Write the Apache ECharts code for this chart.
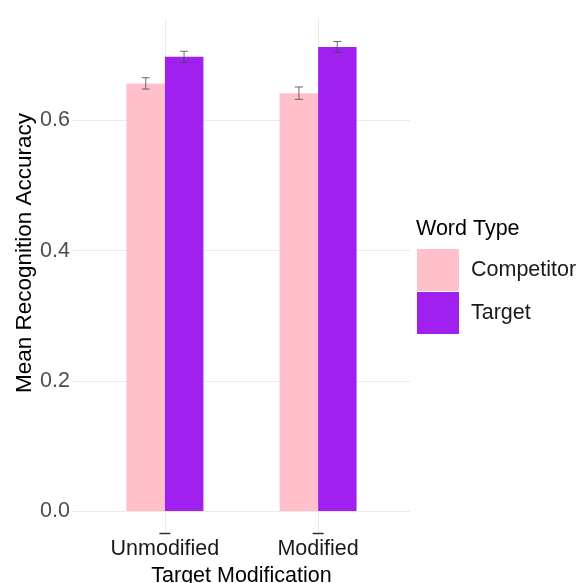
<!DOCTYPE html>
<html>
<head>
<meta charset="utf-8">
<script src="https://cdn.jsdelivr.net/npm/echarts@6/dist/echarts.min.js"></script>
<style>
  html, body { margin: 0; padding: 0; background: #ffffff; }
  #chart { width: 581px; height: 583px; }
</style>
</head>
<body>
<div id="chart"></div>
<script>
// Mean recognition accuracy by target modification and word type
const categories = ['Unmodified', 'Modified'];
const wordTypes = ['Competitor', 'Target'];
const competitorMean = [0.657, 0.642];
const targetMean = [0.698, 0.713];
const competitorSE = [0.0087, 0.0095];
const targetSE = [0.0084, 0.0084];
const yTicks = [0, 0.2, 0.4, 0.6];
const xTicks = [1, 2];

const FONT = '"Liberation Sans", Arial, sans-serif';
const PINK = '#FFC0CB';
const PURPLE = '#A020F0';
const GRID = '#EBEBEB';

// y range with a 5% expansion around [0, highest error-bar top]
const yTop = Math.max(
  ...competitorMean.map((m, i) => m + competitorSE[i]),
  ...targetMean.map((m, i) => m + targetSE[i])
);
const yMin = -0.05 * yTop;
const yMax = yTop * 1.05;

// dodge: each bar covers a quarter of a category unit
const dodge = 0.125;

const errRows = [];
competitorMean.forEach((m, i) => errRows.push([i + 1, m, competitorSE[i], -dodge]));
targetMean.forEach((m, i) => errRows.push([i + 1, m, targetSE[i], dodge]));

const chart = echarts.init(document.getElementById('chart'), null, { renderer: 'canvas' });

chart.setOption({
  backgroundColor: '#ffffff',
  animation: false,
  textStyle: { fontFamily: FONT },
  grid: { left: 73, right: 171, top: 18, bottom: 48.5, containLabel: false, outerBoundsMode: 'none' },
  title: {
    text: 'Word Type',
    left: 416,
    top: 218,
    padding: 0,
    textStyle: { fontFamily: FONT, fontSize: 21.5, fontWeight: 'normal', color: '#000' }
  },
  legend: {
    data: wordTypes,
    orient: 'vertical',
    left: 417,
    top: 249,
    padding: 0,
    itemWidth: 42,
    itemHeight: 42,
    itemGap: 1,
    icon: 'rect',
    textStyle: { fontFamily: FONT, fontSize: 21.5, color: '#1a1a1a', padding: [0, 0, 0, 7] }
  },
  xAxis: {
    type: 'value',
    min: 0.4,
    max: 2.6,
    name: 'Target Modification',
    nameLocation: 'middle',
    nameGap: 25,
    nameTextStyle: { fontFamily: FONT, fontSize: 21.5, color: '#000' },
    axisLine: { show: false },
    axisTick: { show: false, customValues: xTicks },
    axisLabel: {
      customValues: xTicks,
      margin: 4,
      fontFamily: FONT,
      fontSize: 21.5,
      color: '#1a1a1a',
      formatter: v => categories[Math.round(v) - 1] || ''
    },
    splitLine: { show: true, lineStyle: { color: GRID, width: 1 } }
  },
  yAxis: {
    type: 'value',
    min: yMin,
    max: yMax,
    axisLine: { show: false },
    axisTick: { show: false, customValues: yTicks },
    axisLabel: {
      customValues: yTicks,
      margin: 3,
      fontFamily: FONT,
      fontSize: 21.5,
      color: '#4D4D4D',
      formatter: v => v.toFixed(1)
    },
    splitLine: { show: true, lineStyle: { color: GRID, width: 1 } }
  },
  graphic: [{
    type: 'text',
    x: 25,
    y: 253,
    rotation: Math.PI / 2,
    style: {
      text: 'Mean Recognition Accuracy',
      fontFamily: FONT,
      fontSize: 22.5,
      fill: '#000',
      align: 'center',
      verticalAlign: 'middle'
    }
  }],
  series: [
    {
      name: 'Competitor',
      type: 'bar',
      data: competitorMean.map((v, i) => [i + 1, v]),
      barWidth: 38.5,
      barGap: '0%',
      itemStyle: { color: PINK }
    },
    {
      name: 'Target',
      type: 'bar',
      data: targetMean.map((v, i) => [i + 1, v]),
      barWidth: 38.5,
      barGap: '0%',
      itemStyle: { color: PURPLE }
    },
    {
      // standard-error whiskers
      type: 'custom',
      z: 5,
      silent: true,
      data: errRows,
      renderItem: (params, api) => {
        const x = api.value(0) + api.value(3);
        const m = api.value(1);
        const e = api.value(2);
        const hi = api.coord([x, m + e]);
        const lo = api.coord([x, m - e]);
        const cap = 4;
        const style = { stroke: 'rgba(70,70,70,0.8)', lineWidth: 1 };
        return {
          type: 'group',
          children: [
            { type: 'line', shape: { x1: hi[0], y1: hi[1], x2: lo[0], y2: lo[1] }, style },
            { type: 'line', shape: { x1: hi[0] - cap, y1: hi[1], x2: hi[0] + cap, y2: hi[1] }, style },
            { type: 'line', shape: { x1: lo[0] - cap, y1: lo[1], x2: lo[0] + cap, y2: lo[1] }, style }
          ]
        };
      }
    },
    {
      // short marks at the foot of each category line
      type: 'custom',
      z: 5,
      silent: true,
      data: xTicks.map(v => [v]),
      renderItem: (params, api) => {
        const p = api.coord([api.value(0), yMin]);
        return {
          type: 'line',
          shape: { x1: p[0] - 5.5, y1: p[1] - 1, x2: p[0] + 5.5, y2: p[1] - 1 },
          style: { stroke: '#333', lineWidth: 1.5 }
        };
      }
    }
  ]
});
</script>
</body>
</html>
